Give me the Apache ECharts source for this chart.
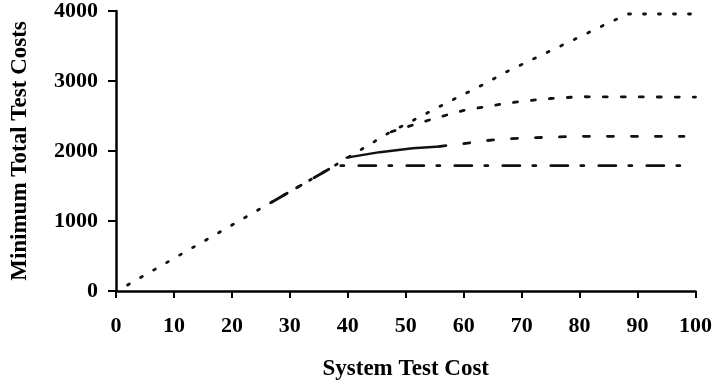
<!DOCTYPE html>
<html><head><meta charset="utf-8">
<script src="https://cdn.jsdelivr.net/npm/echarts@6/dist/echarts.min.js"></script>
<style>html,body{margin:0;padding:0;background:#fff}#c{width:715px;height:387px}</style>
</head><body><div id="c"></div>
<script>
var xTicks = [0,10,20,30,40,50,60,70,80,90,100];
var yTicks = [0,1000,2000,3000,4000];
// Curve 1 (dotted, top plateau)
var curve1 = [[2,85],[10,466],[20,942],[30,1418],[36.3,1720],[46.9,2250],[57.6,2710],[62.8,2925],[67.6,3140],[79.7,3618],[84.6,3814],[88.3,3957],[100,3957]];
// Curve 2 (sparse dot/dash, ~2770 plateau)
var curve2 = [[47.5,2275],[52,2390],[56,2490],[60,2580],[65,2650],[70,2710],[75,2750],[80,2775],[100,2770]];
// Curve 3 (solid start, then dashed, ~2210 plateau)
var curve3Solid = [[39.8,1905],[45.5,1983],[51.2,2040],[55.9,2065]];
var curve3Dashed = [[55.9,2065],[61,2117],[64.1,2150],[67.1,2174],[70.5,2184],[75.1,2198],[80,2210],[98,2208]];
// Curve 4 (dash-dot, ~1790 plateau)
var curve4 = [[27,1275],[30,1418],[37.8,1790],[98,1790]];

var font = '"Liberation Serif","DejaVu Serif",serif';
var col = '#111';
function line(data, dash, w){
  return {type:'line', data:data, showSymbol:false, symbol:'none', smooth:false,
    lineStyle:{color:col, width:w||2.8, type:dash, cap:'round'}, z:3};
}
var plain = function(v){ return String(v); };
var chart = echarts.init(document.getElementById('c'));
chart.setOption({
  animation:false,
  grid:{left:116, right:19, top:11, bottom:96},
  xAxis:{type:'value', min:xTicks[0], max:xTicks[xTicks.length-1], interval:10,
    name:'System Test Cost', nameLocation:'middle', nameGap:67,
    nameTextStyle:{fontFamily:font, fontSize:23, fontWeight:'bold', color:'#000'},
    axisLine:{lineStyle:{color:'#000', width:2.5}},
    axisTick:{show:true, length:7, lineStyle:{color:'#000', width:2}},
    axisLabel:{fontFamily:font, fontSize:22, fontWeight:'bold', color:'#000', margin:24, formatter:plain},
    splitLine:{show:false}},
  yAxis:{type:'value', min:yTicks[0], max:yTicks[yTicks.length-1], interval:1000,
    name:'Minimum Total Test Costs', nameLocation:'middle', nameGap:84,
    nameTextStyle:{fontFamily:font, fontSize:23, fontWeight:'bold', color:'#000'},
    axisLine:{lineStyle:{color:'#000', width:2.5}},
    axisTick:{show:true, length:8, lineStyle:{color:'#000', width:2}},
    axisLabel:{fontFamily:font, fontSize:22, fontWeight:'bold', color:'#000', margin:18, formatter:plain},
    splitLine:{show:false}},
  series:[
    line(curve1, [2,13]),
    line(curve2, [4,14]),
    line(curve3Solid, 'solid', 2.4),
    line(curve3Dashed, [6,18]),
    line(curve4, [17,13,3,15])
  ]
});
</script></body></html>
